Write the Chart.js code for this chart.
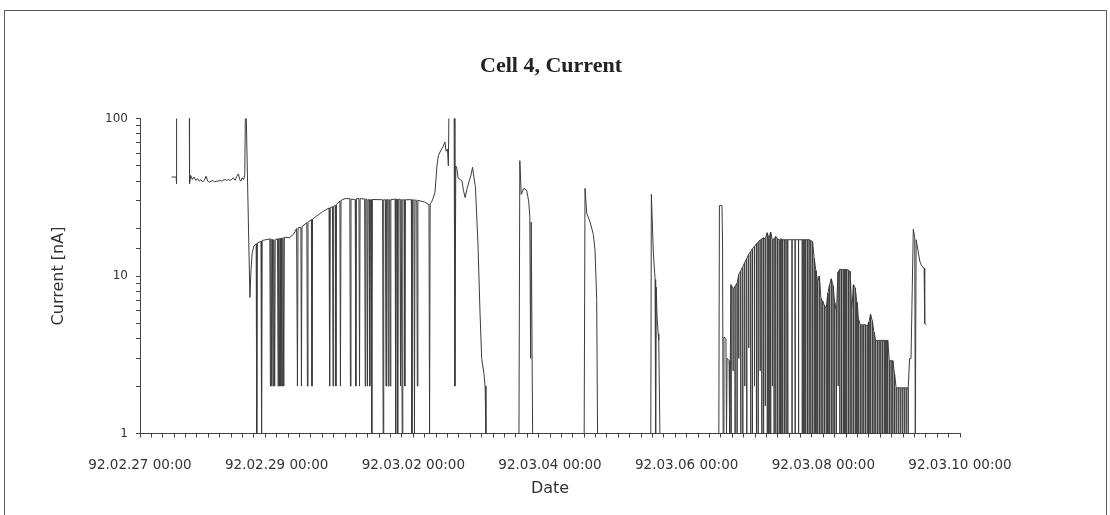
<!DOCTYPE html>
<html>
<head>
<meta charset="utf-8">
<script src="https://cdn.jsdelivr.net/npm/chart.js@4"></script>
<style>
  html, body { margin: 0; padding: 0; background: #fff; }
  #wrap { width: 1110px; height: 515px; }
</style>
</head>
<body>
<div id="wrap"><canvas id="cellChart" width="1110" height="515"></canvas></div>
<script>
const chartTitle = 'Cell 4, Current';

// hours after 92.02.27 00:00, current in nA (values above 100 run off the top)
const startBlock = [
    [11.1, 42.5], [12.7, 42.5], [12.8, 38.5], [12.9, 160], [17.3, 160], [17.4, 38.5],
    [17.8, 43.5], [18.4, 41], [19.0, 42.5], [19.6, 40.5], [20.2, 41.5], [20.8, 40], [21.4, 41],
    [22.0, 39.5], [22.6, 40.5], [23.2, 43], [23.8, 40], [24.4, 39.5], [25.0, 40], [25.6, 40.5],
    [26.2, 39.5], [26.8, 40], [27.4, 40], [28.0, 40.5], [28.6, 40], [29.2, 40.5], [29.8, 41],
    [30.4, 40.5], [31.0, 41], [31.6, 40.5], [32.2, 41], [32.8, 42], [33.4, 40.5], [34.0, 43],
    [34.6, 44.5], [35.0, 41], [35.4, 40], [35.9, 42], [36.4, 41], [36.8, 44], [37.1, 160]
];

const plateau = [
    [38.6, 7.3], [39.0, 11], [39.4, 14], [40.0, 15.5], [40.8, 16.0], [41.0, 1], [41.2, 16.2],
    [42.5, 16.6], [42.7, 1], [42.9, 16.8], [44.2, 17], [45.6, 17.2], [45.8, 2], [46.0, 17.2],
    [46.3, 2], [46.5, 17.1], [46.8, 2], [47.0, 17.0], [47.3, 2], [47.5, 17.0], [48.3, 17.2],
    [48.5, 2], [48.7, 17.3], [49.0, 2], [49.2, 17.4], [49.5, 2], [49.7, 17.4], [50.0, 2],
    [50.2, 17.5], [50.5, 2], [50.7, 17.6], [52.5, 17.5], [54.0, 18.5], [55.0, 20], [55.3, 2],
    [55.5, 20.2], [56.5, 20.4], [56.7, 2], [56.9, 20.6], [58.6, 21.8], [58.8, 2], [59.0, 22.0],
    [60.2, 22.8], [60.4, 2], [60.6, 23], [62.0, 24], [64.0, 25.5], [66.0, 26.8], [66.4, 27],
    [66.6, 2], [66.8, 27.2], [67.6, 27.5], [67.8, 2], [68.0, 27.8], [68.6, 28], [68.8, 2],
    [69.0, 28.5], [70.2, 30], [70.4, 2], [70.6, 30.2], [72.0, 31], [73.7, 31], [73.9, 2],
    [74.1, 30.8], [75.6, 30.5], [75.8, 2], [76.0, 31], [76.9, 31], [77.1, 2], [77.3, 31],
    [78.9, 30.8], [79.1, 2], [79.3, 30.8], [79.7, 30.8], [79.9, 2], [80.1, 30.5], [80.5, 30.5],
    [80.7, 2], [80.9, 30.5], [81.2, 30.5], [81.4, 1], [81.6, 30.6], [85.2, 30.5], [85.4, 1],
    [85.6, 30.5], [86.2, 30.5], [86.4, 2], [86.6, 30.6], [87.0, 30.6], [87.2, 2], [87.4, 30.5],
    [87.7, 30.5], [87.9, 2], [88.1, 30.5], [89.6, 30.8], [89.8, 1], [90.0, 30.8], [90.3, 30.6],
    [90.5, 1], [90.7, 30.6], [91.3, 30.8], [91.5, 2], [91.7, 30.7], [91.9, 30.7], [92.1, 1],
    [92.3, 30.5], [92.8, 30.5], [93.0, 2], [93.2, 30.5], [95.3, 30.5], [95.5, 1], [95.7, 30.5],
    [96.2, 30.4], [96.4, 1], [96.6, 30.4], [97.2, 30.3], [97.4, 2], [97.6, 30.2], [100.0, 29.5],
    [101.2, 28.5], [101.5, 28.3], [101.7, 1], [101.9, 28.5], [102.5, 29.8], [102.9, 31],
    [103.6, 34], [104.3, 50], [104.8, 58], [105.7, 63], [106.4, 66], [107.1, 71], [107.5, 62],
    [108.0, 64], [108.3, 50], [108.6, 160], [110.3, 160], [110.6, 2], [110.9, 50], [111.3, 48],
    [111.7, 42], [112.4, 41], [113.1, 40], [113.6, 35], [114.2, 31.5], [114.9, 36], [115.6, 40],
    [116.3, 44], [116.8, 49], [117.3, 42], [117.8, 37], [118.7, 16], [119.4, 6], [120.0, 3],
    [120.8, 2.4], [121.2, 2.0], [121.5, 1]
];

const bursts = [
    [133.1, 1], [133.4, 54], [133.9, 33], [134.8, 36], [135.8, 35], [136.5, 30], [136.9, 24],
    [137.2, 3], [137.4, 22], [137.9, 1],
    [156.0, 1], [156.3, 36], [156.9, 25], [158.1, 22], [159.2, 18.4], [159.8, 14.7],
    [160.4, 7.1], [160.7, 1],
    [179.4, 1], [179.6, 33], [180.3, 14], [180.9, 9.5], [181.1, 1], [181.3, 8.5], [181.6, 5.5],
    [182.0, 4.3], [182.2, 3.9], [182.6, 1]
];

const lastLeadIn = [
    [203.3, 1], [203.5, 28], [204.4, 28], [204.6, 16], [204.8, 1], [205.1, 4.1], [205.8, 4.0],
    [206.0, 1], [206.2, 3.0], [206.9, 2.9], [207.1, 1]
];

// dense part: [hour, value before/after the dropout, value at the dropout]
const lastDrops = [
    [207.6, 8.8, 1], [208.3, 8.3, 2.5], [209.0, 8.6, 1], [209.7, 9.0, 1], [210.3, 10.2, 3],
    [211.0, 10.8, 1], [211.7, 11.4, 1], [212.4, 12.2, 2], [213.1, 12.9, 1], [213.8, 13.7, 3.5],
    [214.5, 14.3, 1], [215.1, 14.9, 1], [215.8, 15.4, 2], [216.5, 16.0, 1], [217.1, 16.4, 1],
    [217.8, 16.9, 2.5], [218.4, 17.2, 1], [219.0, 17.5, 1], [219.6, 17.2, 1.5], [220.3, 18.8, 1],
    [220.9, 17.3, 1], [221.5, 19.0, 1], [222.1, 17.0, 2], [222.7, 17.2, 1], [223.3, 17.8, 1],
    [223.9, 17.3, 1], [224.5, 16.9, 1], [225.1, 17.2, 1], [225.7, 17.0, 1], [226.3, 17.0, 1],
    [226.9, 17.0, 1], [227.5, 17.0, 1], [229.0, 17.0, 1], [230.1, 17.0, 1], [231.3, 17.0, 1],
    [232.6, 17.0, 1], [233.2, 17.0, 1], [233.8, 17.0, 1], [234.4, 17.0, 1], [235.0, 17.0, 1],
    [235.6, 16.8, 1], [236.2, 16.5, 1], [236.8, 13.0, 1], [237.4, 10.8, 1], [238.0, 9.2, 1],
    [238.6, 10.0, 1], [239.2, 7.2, 1], [239.8, 6.9, 1], [240.4, 6.5, 1], [241.0, 6.2, 1],
    [241.6, 7.8, 1], [242.2, 8.8, 1], [242.8, 9.6, 1], [243.4, 8.7, 1], [244.0, 6.8, 1],
    [244.6, 6.0, 1], [245.2, 10.6, 2], [245.8, 11.0, 1], [246.4, 11.0, 1], [247.0, 11.0, 1],
    [247.6, 11.0, 1], [248.2, 11.0, 1], [248.8, 10.9, 1], [249.4, 10.7, 1], [250.0, 6.0, 1],
    [250.6, 8.8, 1], [251.2, 8.4, 1], [251.8, 6.8, 1], [252.4, 5.3, 1], [253.0, 4.9, 1],
    [253.6, 4.9, 1], [254.2, 4.9, 1], [254.8, 4.9, 1], [255.4, 4.8, 1], [256.0, 5.1, 1],
    [256.6, 5.7, 1], [257.2, 5.2, 1], [257.8, 4.4, 1], [258.4, 3.9, 1], [259.0, 3.9, 1],
    [259.6, 3.9, 1], [260.2, 3.9, 1], [260.8, 3.9, 1], [261.4, 3.9, 1], [262.0, 3.9, 1],
    [262.6, 3.9, 1], [263.2, 2.9, 1], [263.8, 2.9, 1], [264.4, 2.9, 1], [265.0, 2.4, 1],
    [265.6, 1.95, 1], [266.3, 1.95, 1], [267.0, 1.95, 1], [267.7, 1.95, 1], [268.4, 1.95, 1],
    [269.1, 1.95, 1], [269.8, 1.95, 1]
];

const lastTail = [
    [270.3, 3.0], [270.8, 3.0], [271.6, 19.8], [272.1, 17.5], [272.3, 1], [272.6, 17],
    [273.9, 12.4], [274.5, 11.6], [275.4, 11.2], [275.6, 5.0], [276.2, 4.9]
];

const xTickLabels = ['92.02.27 00:00', '92.02.29 00:00', '92.03.02 00:00', '92.03.04 00:00',
    '92.03.06 00:00', '92.03.08 00:00', '92.03.10 00:00'];
const yTickValues = [1, 10, 100];
const yTickLabels = ['1', '10', '100'];

const dropPoints = [];
lastDrops.forEach(d => {
    dropPoints.push([d[0] - 0.04, d[1]], [d[0], d[2]], [d[0] + 0.04, d[1]]);
});

const points = [...startBlock, ...plateau, ...bursts, ...lastLeadIn, ...dropPoints, ...lastTail]
    .map(p => ({ x: p[0], y: p[1] }));

const frame = {
    id: 'frame',
    afterDraw(chart) {
        const ctx = chart.ctx;
        const area = chart.chartArea;
        ctx.save();
        ctx.strokeStyle = '#5a5a5a';
        ctx.lineWidth = 1;
        ctx.strokeRect(4.5, 10.5, 1102, 520);
        ctx.fillStyle = '#222';
        ctx.font = 'bold 22px "Liberation Serif"';
        ctx.textAlign = 'center';
        ctx.textBaseline = 'middle';
        ctx.fillText(chartTitle, (area.left + area.right) / 2 + 1, 66);
        ctx.restore();
    }
};

new Chart(document.getElementById('cellChart'), {
    type: 'line',
    data: {
        datasets: [{
            label: 'Current',
            data: points,
            borderColor: '#3c3c3c',
            borderWidth: 1,
            pointRadius: 0,
            tension: 0,
            fill: false
        }]
    },
    options: {
        responsive: false,
        animation: false,
        devicePixelRatio: 1,
        layout: { padding: { left: 0, right: 150, top: 118.5, bottom: 0 } },
        plugins: {
            legend: { display: false },
            tooltip: { enabled: false },
            title: { display: false }
        },
        scales: {
            x: {
                type: 'linear',
                min: 0,
                max: 288,
                afterFit: (s) => { s.height = 81.5; },
                grid: { drawOnChartArea: false, tickLength: 4, color: '#444' },
                border: { color: '#444', width: 1 },
                ticks: {
                    stepSize: 4,
                    autoSkip: false,
                    maxRotation: 0,
                    padding: 20,
                    color: '#333',
                    font: { family: 'DejaVu Sans', size: 13.5 },
                    callback: (v) => (v % 48 === 0 ? xTickLabels[v / 48] : '')
                },
                title: {
                    display: true,
                    text: 'Date',
                    color: '#333',
                    font: { family: 'DejaVu Sans', size: 16 },
                    padding: { top: 0, bottom: 17 }
                }
            },
            y: {
                type: 'logarithmic',
                min: 1,
                max: 100,
                afterFit: (s) => { s.width = 140; },
                grid: { drawOnChartArea: false, tickLength: 4, color: '#444' },
                border: { color: '#444', width: 1 },
                ticks: {
                    autoSkip: false,
                    padding: 8,
                    color: '#333',
                    font: { family: 'DejaVu Sans', size: 12 },
                    callback: (v) => {
                        const i = yTickValues.indexOf(v);
                        return i >= 0 ? yTickLabels[i] : '';
                    }
                },
                title: {
                    display: true,
                    text: 'Current [nA]',
                    color: '#333',
                    font: { family: 'DejaVu Sans', size: 16 },
                    padding: { top: 49, bottom: 0 }
                }
            }
        }
    },
    plugins: [frame]
});
</script>
</body>
</html>
